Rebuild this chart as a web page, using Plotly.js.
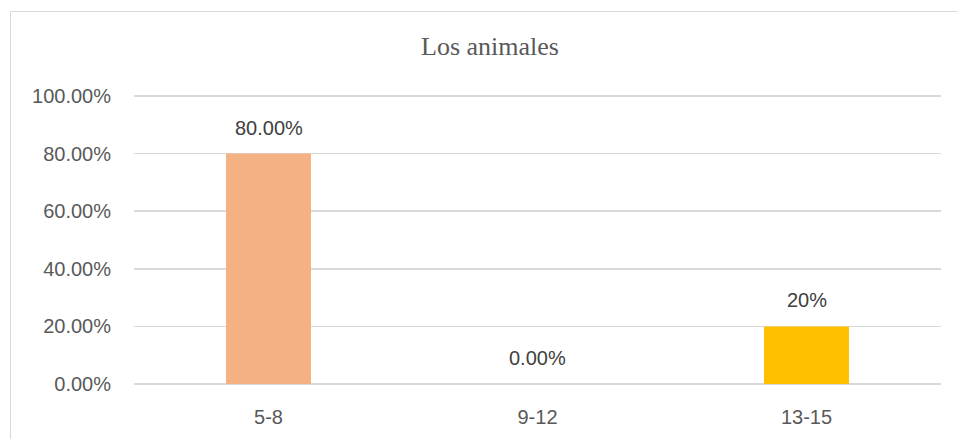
<!DOCTYPE html>
<html>
<head>
<meta charset="utf-8">
<script src="https://cdn.plot.ly/plotly-3.0.1.min.js"></script>
<style>
  html, body { margin: 0; padding: 0; background: #ffffff; }
  #wrap { position: relative; width: 958px; height: 439px; overflow: hidden; }
  #chart { width: 958px; height: 439px; }
  #frame { position: absolute; left: 10px; top: 11px; width: 1000px; height: 500px;
           border-left: 1px solid #d9d9d9; border-top: 1px solid #d9d9d9; pointer-events: none; }
</style>
</head>
<body>
<div id="wrap">
  <div id="chart"></div>
  <div id="frame"></div>
</div>
<script>
const categories = ["5-8", "9-12", "13-15"];
const values = [0.80, 0.00, 0.20];
const valueLabels = ["80.00%", "0.00%", "20%"];
const barColors = ["#F4B183", "#F4B183", "#FFC000"];
const yTickValues = [0, 0.2, 0.4, 0.6, 0.8, 1.0];
const yTickLabels = ["0.00%", "20.00%", "40.00%", "60.00%", "80.00%", "100.00%"];
const chartTitle = "Los animales";

const trace = {
  type: "bar",
  x: categories,
  y: values,
  marker: { color: barColors },
  width: 0.316,
  hoverinfo: "skip"
};

const annotations = categories.map((c, i) => ({
  x: c, y: values[i], xref: "x", yref: "y",
  text: valueLabels[i], showarrow: false,
  yanchor: "middle", yshift: 26,
  font: { family: "Liberation Sans, Arial, sans-serif", size: 20, color: "#404040" }
}));

const layout = {
  width: 958, height: 439,
  margin: { l: 134, r: 17, t: 92.5, b: 55 },
  paper_bgcolor: "#ffffff", plot_bgcolor: "#ffffff",
  showlegend: false,
  title: {
    text: chartTitle,
    font: { family: "Liberation Serif, Times New Roman, serif", size: 26, color: "#595959" },
    x: 490 / 958, xref: "container", xanchor: "center",
    y: 1 - 46 / 439, yref: "container", yanchor: "middle"
  },
  xaxis: {
    type: "category",
    range: [-0.5, 2.5],
    showgrid: false, zeroline: false, showline: false,
    ticks: "", ticklabelstandoff: 19,
    tickfont: { family: "Liberation Sans, Arial, sans-serif", size: 20, color: "#595959" }
  },
  yaxis: {
    range: [0, 1.01],
    tickvals: yTickValues, ticktext: yTickLabels,
    showgrid: true, gridcolor: "#d9d9d9", gridwidth: 1.5,
    zeroline: true, zerolinecolor: "#d9d9d9", zerolinewidth: 1.5,
    showline: false, ticks: "", ticklabelstandoff: 22,
    tickfont: { family: "Liberation Sans, Arial, sans-serif", size: 20, color: "#595959" }
  },
  annotations: annotations
};

Plotly.newPlot("chart", [trace], layout, { displayModeBar: false, staticPlot: true });
</script>
</body>
</html>
